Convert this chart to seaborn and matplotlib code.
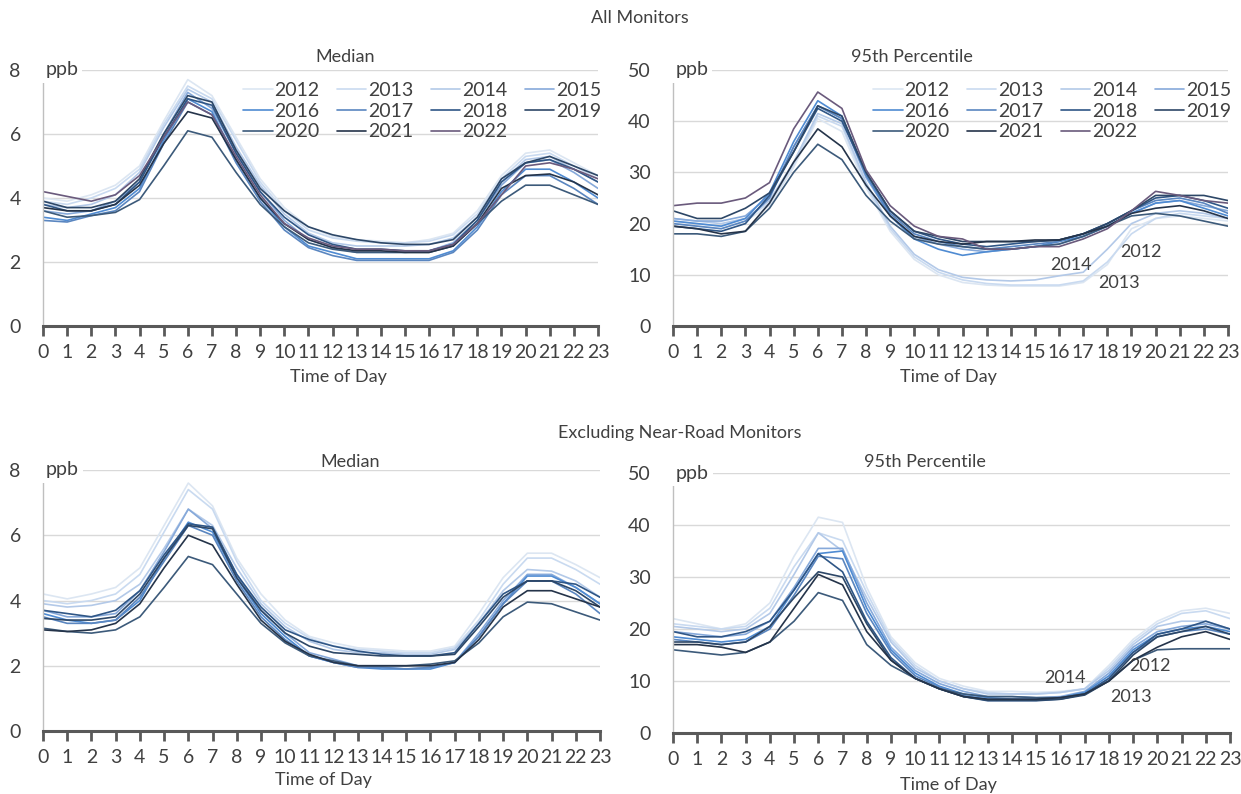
import numpy as np
import pandas as pd
import seaborn as sns
import matplotlib.pyplot as plt

hours = list(range(24))
years = ['2012', '2013', '2014', '2015', '2016', '2017', '2018', '2019', '2020', '2021', '2022']

# All monitors - median (ppb)
all_med_2012 = [4.0, 3.9, 4.1, 4.4, 5.0, 6.4, 7.7, 7.2, 5.9, 4.6, 3.7, 3.1, 2.8, 2.7, 2.65, 2.6, 2.7, 2.9, 3.6, 4.7, 5.4, 5.5, 5.1, 4.7]
all_med_2013 = [3.9, 3.8, 4.0, 4.3, 4.9, 6.3, 7.5, 7.1, 5.8, 4.5, 3.6, 3.0, 2.75, 2.65, 2.6, 2.6, 2.65, 2.85, 3.5, 4.6, 5.3, 5.4, 5.0, 4.6]
all_med_2014 = [3.8, 3.7, 3.8, 4.1, 4.8, 6.2, 7.4, 7.0, 5.6, 4.4, 3.5, 2.9, 2.6, 2.5, 2.5, 2.5, 2.55, 2.75, 3.4, 4.5, 5.2, 5.3, 4.9, 4.5]
all_med_2015 = [3.6, 3.5, 3.6, 3.9, 4.5, 6.0, 7.3, 6.8, 5.4, 4.2, 3.3, 2.7, 2.45, 2.3, 2.3, 2.3, 2.35, 2.6, 3.3, 4.4, 5.1, 5.2, 4.8, 4.3]
all_med_2016 = [3.4, 3.3, 3.5, 3.7, 4.3, 5.8, 7.1, 6.7, 5.2, 4.0, 3.1, 2.5, 2.3, 2.1, 2.1, 2.1, 2.1, 2.35, 3.1, 4.2, 4.9, 4.9, 4.5, 4.0]
all_med_2017 = [3.3, 3.25, 3.45, 3.6, 4.2, 5.7, 7.0, 6.6, 5.1, 3.9, 3.0, 2.45, 2.2, 2.05, 2.05, 2.05, 2.05, 2.3, 3.0, 4.1, 4.7, 4.7, 4.3, 3.8]
all_med_2018 = [3.8, 3.6, 3.6, 3.8, 4.5, 5.9, 7.1, 6.9, 5.4, 4.2, 3.4, 2.85, 2.55, 2.4, 2.4, 2.35, 2.35, 2.55, 3.3, 4.5, 5.1, 5.2, 4.9, 4.5]
all_med_2019 = [3.9, 3.7, 3.7, 3.9, 4.6, 6.0, 7.2, 7.0, 5.5, 4.3, 3.6, 3.1, 2.85, 2.7, 2.6, 2.55, 2.55, 2.7, 3.4, 4.6, 5.1, 5.3, 5.0, 4.7]
all_med_2020 = [3.6, 3.4, 3.45, 3.55, 3.95, 5.0, 6.1, 5.9, 4.8, 3.8, 3.1, 2.6, 2.4, 2.3, 2.3, 2.3, 2.3, 2.5, 3.2, 3.9, 4.4, 4.4, 4.1, 3.8]
all_med_2021 = [3.7, 3.6, 3.6, 3.8, 4.4, 5.7, 6.7, 6.5, 5.2, 4.0, 3.2, 2.7, 2.45, 2.35, 2.35, 2.3, 2.3, 2.5, 3.2, 4.3, 4.7, 4.75, 4.5, 4.1]
all_med_2022 = [4.2, 4.05, 3.9, 4.1, 4.7, 5.9, 7.0, 6.6, 5.3, 4.1, 3.2, 2.75, 2.5, 2.4, 2.4, 2.35, 2.35, 2.55, 3.2, 4.1, 5.0, 5.1, 4.9, 4.6]

# All monitors - 95th percentile (ppb)
all_p95_2012 = [20.0, 19.5, 19.0, 20.5, 23.5, 31.0, 40.5, 38.0, 27.0, 18.5, 13.0, 10.0, 8.5, 8.0, 7.8, 7.8, 7.8, 8.5, 12.0, 19.0, 21.0, 21.5, 21.0, 20.5]
all_p95_2013 = [20.5, 20.0, 19.5, 21.0, 24.0, 31.5, 41.0, 39.0, 27.5, 19.0, 13.5, 10.5, 9.0, 8.3, 8.0, 8.0, 8.0, 8.8, 12.5, 18.0, 21.0, 22.0, 21.5, 21.0]
all_p95_2014 = [21.0, 20.5, 20.0, 21.0, 24.5, 32.0, 41.5, 39.5, 28.0, 19.5, 14.0, 11.0, 9.5, 9.0, 8.8, 9.0, 9.8, 10.5, 15.0, 20.0, 22.0, 22.5, 22.0, 21.0]
all_p95_2015 = [21.0, 20.5, 20.5, 21.5, 25.5, 35.0, 43.0, 40.5, 29.0, 21.5, 17.5, 16.0, 15.0, 14.5, 15.0, 15.5, 16.0, 17.5, 19.5, 22.0, 24.0, 24.5, 23.5, 22.5]
all_p95_2016 = [20.5, 20.0, 19.5, 21.0, 26.0, 36.0, 44.0, 41.0, 29.5, 21.5, 17.0, 15.0, 13.8, 14.5, 15.0, 15.5, 16.5, 17.5, 19.5, 22.0, 24.0, 24.5, 23.0, 21.5]
all_p95_2017 = [20.0, 19.5, 19.0, 20.5, 25.0, 35.0, 43.0, 40.5, 29.5, 22.0, 18.0, 16.5, 15.5, 15.0, 15.5, 16.0, 16.5, 18.0, 20.0, 22.5, 24.5, 25.0, 24.0, 22.0]
all_p95_2018 = [19.5, 19.0, 18.5, 20.0, 25.5, 34.0, 42.5, 40.0, 30.0, 22.5, 18.5, 17.0, 16.0, 15.5, 16.0, 16.5, 16.8, 18.0, 20.0, 22.5, 25.0, 25.5, 24.5, 23.0]
all_p95_2019 = [22.5, 21.0, 21.0, 23.0, 26.0, 34.0, 43.0, 41.0, 30.0, 22.5, 18.5, 17.5, 16.5, 16.5, 16.5, 16.5, 16.8, 18.0, 20.0, 22.5, 25.5, 25.5, 25.5, 24.5]
all_p95_2020 = [18.0, 18.0, 17.5, 18.5, 23.0, 30.0, 35.5, 32.5, 25.5, 20.5, 17.0, 16.0, 15.5, 15.0, 15.0, 15.5, 16.0, 17.5, 19.5, 21.5, 22.0, 21.5, 20.5, 19.5]
all_p95_2021 = [19.5, 19.0, 18.0, 18.5, 24.0, 32.0, 38.5, 35.0, 27.5, 21.5, 17.5, 16.5, 16.0, 16.5, 16.5, 16.8, 16.8, 18.0, 19.5, 22.0, 23.0, 23.5, 22.5, 21.0]
all_p95_2022 = [23.5, 24.0, 24.0, 25.0, 28.0, 38.5, 45.7, 42.5, 30.5, 23.5, 19.5, 17.5, 17.0, 15.0, 15.0, 15.5, 15.5, 17.0, 19.0, 22.5, 26.3, 25.5, 24.5, 24.0]

# Excluding near-road monitors - median (ppb)
exc_med_2012 = [4.2, 4.05, 4.2, 4.4, 5.0, 6.3, 7.6, 6.9, 5.3, 4.2, 3.4, 2.9, 2.7, 2.55, 2.5, 2.45, 2.45, 2.6, 3.6, 4.7, 5.45, 5.45, 5.1, 4.7]
exc_med_2013 = [4.0, 3.9, 4.0, 4.2, 4.8, 6.1, 7.4, 6.8, 5.2, 4.0, 3.3, 2.85, 2.6, 2.5, 2.45, 2.4, 2.4, 2.55, 3.4, 4.5, 5.3, 5.3, 4.95, 4.5]
exc_med_2014 = [3.9, 3.8, 3.85, 4.0, 4.5, 5.6, 6.8, 6.3, 5.0, 3.9, 3.2, 2.75, 2.5, 2.4, 2.4, 2.35, 2.35, 2.5, 3.3, 4.3, 4.95, 4.9, 4.6, 4.1]
exc_med_2015 = [3.7, 3.5, 3.5, 3.6, 4.3, 5.5, 6.8, 6.2, 4.8, 3.7, 3.0, 2.4, 2.2, 2.0, 1.95, 1.9, 1.95, 2.1, 3.0, 4.0, 4.8, 4.8, 4.4, 3.9]
exc_med_2016 = [3.6, 3.4, 3.3, 3.4, 4.0, 5.3, 6.4, 6.1, 4.7, 3.6, 2.9, 2.3, 2.1, 1.95, 1.9, 1.9, 1.9, 2.1, 2.9, 3.9, 4.75, 4.75, 4.4, 3.9]
exc_med_2017 = [3.5, 3.3, 3.3, 3.4, 4.1, 5.2, 6.3, 6.0, 4.6, 3.5, 2.8, 2.3, 2.1, 1.95, 1.95, 1.9, 1.95, 2.1, 2.9, 3.9, 4.6, 4.6, 4.2, 3.6]
exc_med_2018 = [3.7, 3.6, 3.5, 3.7, 4.3, 5.4, 6.35, 6.25, 4.8, 3.8, 3.1, 2.8, 2.6, 2.45, 2.35, 2.3, 2.3, 2.4, 3.3, 4.2, 4.6, 4.6, 4.5, 4.1]
exc_med_2019 = [3.45, 3.4, 3.4, 3.5, 4.2, 5.3, 6.3, 6.2, 4.7, 3.7, 3.0, 2.6, 2.4, 2.35, 2.3, 2.3, 2.3, 2.35, 3.2, 4.1, 4.6, 4.6, 4.3, 3.8]
exc_med_2020 = [3.15, 3.05, 3.0, 3.1, 3.5, 4.4, 5.35, 5.1, 4.2, 3.3, 2.7, 2.3, 2.15, 2.0, 2.0, 2.0, 2.05, 2.15, 2.7, 3.5, 3.95, 3.9, 3.65, 3.4]
exc_med_2021 = [3.1, 3.05, 3.1, 3.3, 3.9, 5.0, 6.0, 5.7, 4.5, 3.4, 2.75, 2.35, 2.1, 2.0, 2.0, 2.0, 2.0, 2.1, 2.8, 3.8, 4.3, 4.3, 4.05, 3.8]

# Excluding near-road monitors - 95th percentile (ppb)
exc_p95_2012 = [22.0, 21.0, 20.0, 21.0, 25.0, 34.0, 41.5, 40.5, 28.0, 18.5, 13.5, 10.5, 9.0, 8.0, 8.0, 7.8, 8.0, 8.5, 13.0, 18.0, 21.5, 23.5, 24.0, 23.0]
exc_p95_2013 = [21.0, 20.5, 20.0, 20.5, 24.0, 32.0, 38.5, 37.0, 27.0, 18.0, 13.0, 10.0, 8.5, 7.8, 7.5, 7.5, 7.8, 8.5, 12.5, 17.5, 21.0, 23.0, 23.5, 22.0]
exc_p95_2014 = [20.5, 20.0, 19.5, 20.0, 23.0, 30.5, 38.5, 35.0, 26.0, 17.5, 12.5, 10.0, 8.5, 7.5, 7.5, 7.5, 7.8, 8.5, 12.0, 17.0, 20.5, 21.5, 21.5, 20.0]
exc_p95_2015 = [19.5, 19.0, 18.5, 19.0, 21.5, 28.0, 35.5, 35.5, 25.0, 16.5, 12.0, 9.5, 8.0, 7.0, 7.0, 6.8, 7.0, 8.0, 11.5, 16.5, 19.5, 20.5, 21.0, 20.0]
exc_p95_2016 = [18.5, 18.0, 17.5, 18.0, 20.5, 27.5, 34.5, 35.0, 24.0, 16.0, 11.5, 9.0, 7.5, 6.8, 6.5, 6.5, 6.8, 7.8, 11.0, 16.0, 19.0, 20.0, 20.5, 19.5]
exc_p95_2017 = [18.0, 17.5, 17.0, 17.5, 20.0, 26.5, 34.0, 33.5, 23.0, 15.5, 11.0, 8.8, 7.2, 6.5, 6.5, 6.5, 6.8, 7.5, 10.5, 15.5, 18.5, 19.5, 20.0, 19.0]
exc_p95_2018 = [19.5, 18.5, 18.5, 19.5, 21.5, 27.5, 34.5, 31.0, 21.5, 14.5, 10.5, 8.5, 7.0, 6.2, 6.2, 6.2, 6.5, 7.5, 10.5, 15.5, 19.0, 20.0, 21.5, 20.0]
exc_p95_2019 = [17.5, 17.5, 17.0, 17.5, 20.5, 26.0, 31.0, 30.0, 21.0, 14.0, 10.5, 8.5, 7.0, 6.3, 6.3, 6.3, 6.5, 7.3, 10.0, 15.0, 18.5, 19.5, 20.5, 19.0]
exc_p95_2020 = [16.0, 15.5, 15.0, 15.5, 17.5, 21.5, 27.0, 25.5, 17.0, 13.0, 10.5, 8.5, 7.5, 7.0, 7.0, 6.8, 6.8, 7.5, 10.0, 14.0, 16.0, 16.2, 16.2, 16.2]
exc_p95_2021 = [17.0, 17.0, 16.5, 15.5, 17.5, 24.0, 30.5, 28.5, 19.5, 14.0, 10.5, 8.5, 7.0, 6.5, 6.5, 6.5, 6.8, 7.5, 10.0, 14.0, 16.5, 18.5, 19.5, 18.0]

colors = ['#dce6f2', '#c9daf0', '#b3c9e8', '#86a9da', '#4f8bd2', '#5a86c0',
          '#2f5686', '#2d4767', '#3c5a7a', '#25344a', '#6a5a7c']
palette = dict(zip(years, colors))


def long_df(series):
    rows = []
    for yr, vals in series.items():
        for h, v in zip(hours, vals):
            rows.append({'hour': h, 'year': yr, 'ppb': v})
    return pd.DataFrame(rows)


panel_all_med = long_df(dict(zip(years, [all_med_2012, all_med_2013, all_med_2014, all_med_2015, all_med_2016,
                                         all_med_2017, all_med_2018, all_med_2019, all_med_2020, all_med_2021,
                                         all_med_2022])))
panel_all_p95 = long_df(dict(zip(years, [all_p95_2012, all_p95_2013, all_p95_2014, all_p95_2015, all_p95_2016,
                                         all_p95_2017, all_p95_2018, all_p95_2019, all_p95_2020, all_p95_2021,
                                         all_p95_2022])))
panel_exc_med = long_df(dict(zip(years[:10], [exc_med_2012, exc_med_2013, exc_med_2014, exc_med_2015, exc_med_2016,
                                              exc_med_2017, exc_med_2018, exc_med_2019, exc_med_2020, exc_med_2021])))
panel_exc_p95 = long_df(dict(zip(years[:10], [exc_p95_2012, exc_p95_2013, exc_p95_2014, exc_p95_2015, exc_p95_2016,
                                              exc_p95_2017, exc_p95_2018, exc_p95_2019, exc_p95_2020, exc_p95_2021])))

sns.set_style('white')
plt.rcParams['font.family'] = ['Lato', 'DejaVu Sans']
txt = '#404040'

fig = plt.figure(figsize=(12.41, 7.94), dpi=100)
W, H = 1241, 794


def box(x0, x1, y0, y1):
    return [x0 / W, 1 - y0 / H, (x1 - x0) / W, (y0 - y1) / H]


ax_tl = fig.add_axes(box(43, 598, 326, 70))
ax_tr = fig.add_axes(box(673, 1228, 326, 70))
ax_bl = fig.add_axes(box(43, 600, 731, 470))
ax_br = fig.add_axes(box(673, 1230, 733, 473))

panels = [
    (ax_tl, panel_all_med, 8, 2, True),
    (ax_tr, panel_all_p95, 50, 10, True),
    (ax_bl, panel_exc_med, 8, 2, False),
    (ax_br, panel_exc_p95, 50, 10, False),
]

# legend is filled row by row in the reference (2012..2015 on the first row)
order = [0, 4, 8, 1, 5, 9, 2, 6, 10, 3, 7]

for ax, df, ymax, step, leg in panels:
    sns.lineplot(data=df, x='hour', y='ppb', hue='year', palette=palette,
                 linewidth=1.2, ax=ax, legend=leg)
    ax.set_xlim(0, 23)
    ax.set_ylim(0, ymax)
    ax.set_xticks(hours)
    ax.set_xticklabels([str(h) for h in hours], fontsize=14, color=txt)
    ax.set_yticks(np.arange(0, ymax + 1, step))
    ax.set_yticklabels([str(v) for v in np.arange(0, ymax + 1, step)], fontsize=14, color=txt)
    ax.set_xlabel('')
    ax.set_ylabel('')
    ax.grid(axis='y', color='#d9d9d9', linewidth=1)
    ax.set_axisbelow(True)
    for s in ['top', 'right']:
        ax.spines[s].set_visible(False)
    ax.spines['left'].set_color('#bfbfbf')
    ax.spines['left'].set_linewidth(1)
    ax.spines['bottom'].set_color('#595959')
    ax.spines['bottom'].set_linewidth(2.2)
    ax.tick_params(axis='x', bottom=True, direction='out', length=7, width=2, color='#595959', pad=6)
    ax.tick_params(axis='y', left=False, length=0, pad=16)
    ax.spines['bottom'].set_zorder(5)
    ax.text(0.1, ymax, 'ppb', fontsize=14, color=txt, va='center', ha='left',
            bbox=dict(facecolor='white', edgecolor='none', pad=3), zorder=6)
    if leg:
        handles, labels = ax.get_legend_handles_labels()
        ax.legend([handles[i] for i in order], [labels[i] for i in order],
                  loc='upper right', bbox_to_anchor=(1.02, 0.985), ncol=4, frameon=False,
                  fontsize=14, handlelength=1.5, handletextpad=0.1, columnspacing=0.9,
                  labelspacing=0.2, borderaxespad=0, labelcolor=txt)

# year labels inside the 95th percentile panels
ax_tr.text(16.5, 12.0, '2014', fontsize=13, color=txt, ha='center', va='center')
ax_tr.text(19.4, 14.4, '2012', fontsize=13, color=txt, ha='center', va='center')
ax_tr.text(18.5, 8.4, '2013', fontsize=13, color=txt, ha='center', va='center')
ax_br.text(16.2, 10.5, '2014', fontsize=13, color=txt, ha='center', va='center')
ax_br.text(19.7, 12.8, '2012', fontsize=13, color=txt, ha='center', va='center')
ax_br.text(18.9, 6.9, '2013', fontsize=13, color=txt, ha='center', va='center')

# panel titles and axis titles
fig.text(640 / W, 1 - 18 / H, 'All Monitors', fontsize=13, color=txt, ha='center', va='center')
fig.text(680 / W, 1 - 433 / H, 'Excluding Near-Road Monitors', fontsize=13, color=txt, ha='center', va='center')
fig.text(345 / W, 1 - 57 / H, 'Median', fontsize=13, color=txt, ha='center', va='center')
fig.text(912 / W, 1 - 57 / H, '95th Percentile', fontsize=13, color=txt, ha='center', va='center')
fig.text(350 / W, 1 - 462 / H, 'Median', fontsize=13, color=txt, ha='center', va='center')
fig.text(925 / W, 1 - 462 / H, '95th Percentile', fontsize=13, color=txt, ha='center', va='center')
fig.text(338 / W, 1 - 377 / H, 'Time of Day', fontsize=13, color=txt, ha='center', va='center')
fig.text(948 / W, 1 - 377 / H, 'Time of Day', fontsize=13, color=txt, ha='center', va='center')
fig.text(323 / W, 1 - 780 / H, 'Time of Day', fontsize=13, color=txt, ha='center', va='center')
fig.text(948 / W, 1 - 785 / H, 'Time of Day', fontsize=13, color=txt, ha='center', va='center')

fig.savefig('out.png', dpi=100)
